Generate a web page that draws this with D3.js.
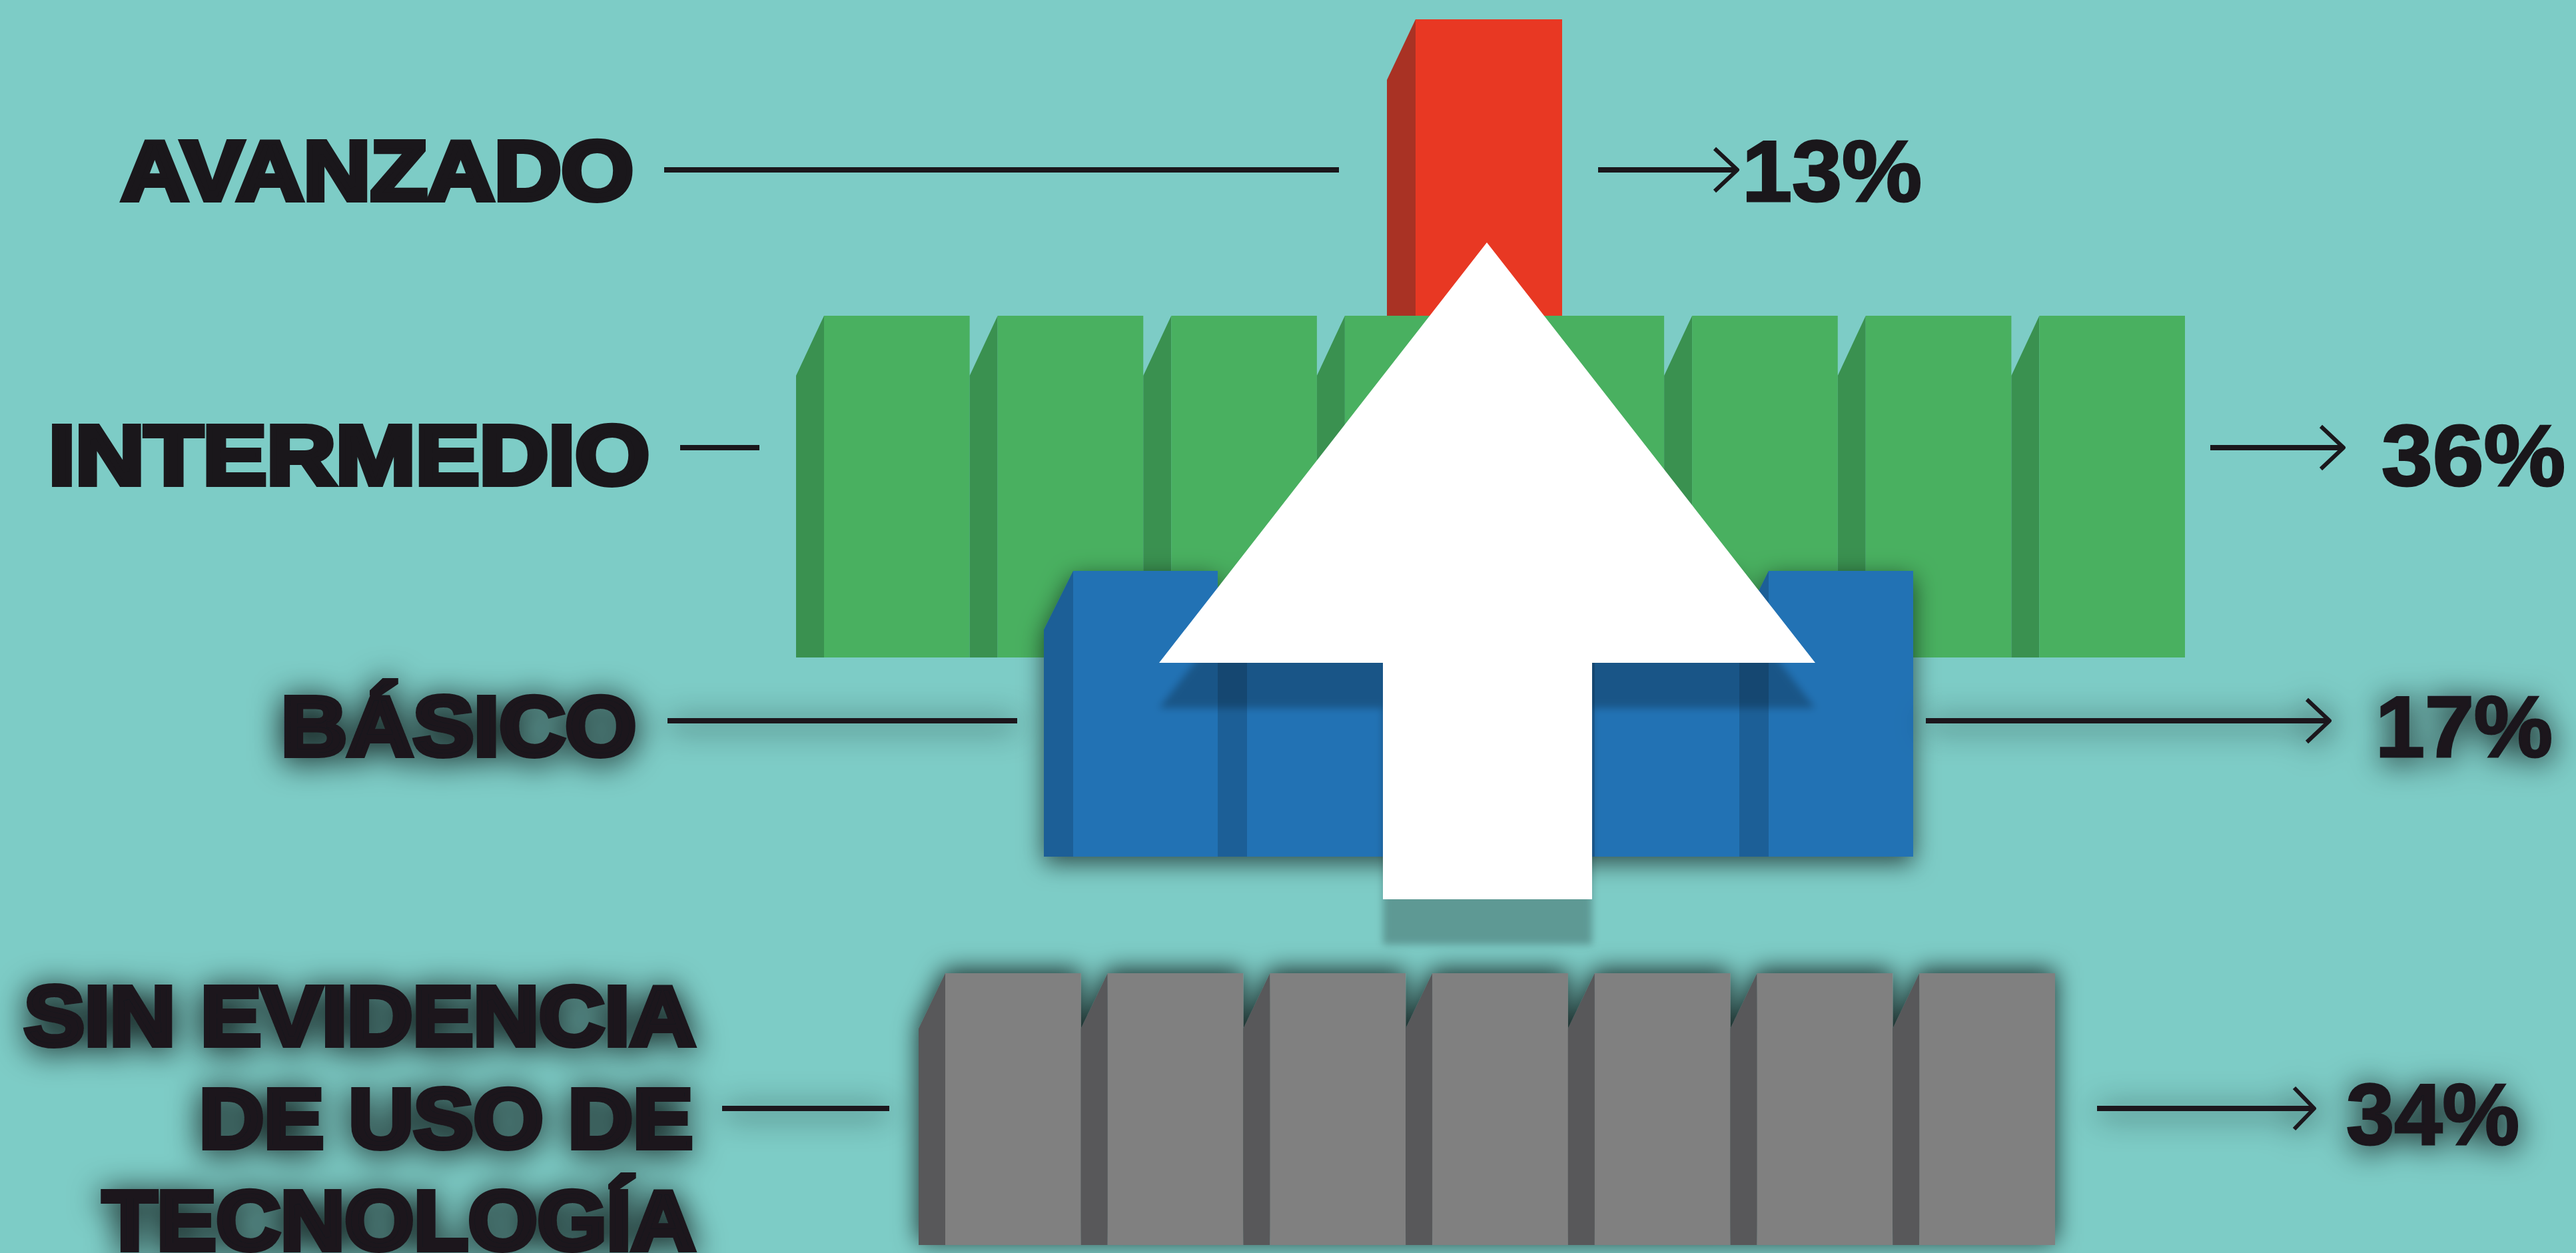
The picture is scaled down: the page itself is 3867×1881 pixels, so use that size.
<!DOCTYPE html>
<html>
<head>
<meta charset="utf-8">
<script src="https://d3js.org/d3.v7.min.js"></script>
<style>
html, body { margin: 0; padding: 0; background: #7dccc6; overflow: hidden; }
svg { display: block; }
text { font-family: "Liberation Sans", sans-serif; font-weight: 700; fill: #1a171b; }
</style>
</head>
<body>
<div id="chart"></div>
<script>
// data
const categories = ['AVANZADO', 'INTERMEDIO', 'BÁSICO', 'SIN EVIDENCIA DE USO DE TECNOLOGÍA'];
const percents = [13, 36, 17, 34];
const unitCounts = [1, 8, 5, 7]; // blocks drawn in each row
const labelLines = [['AVANZADO'], ['INTERMEDIO'], ['BÁSICO'], ['SIN EVIDENCIA', 'DE USO DE', 'TECNOLOGÍA']];

const width = 3867;
const height = 1881;

// one layout entry per row, all in pixels
const layout = [
    { left: 2082, right: 2345, top: 29, bottom: 500, shade: 43, rise: 91, front: '#e83823', side: '#a93224', barGlow: null, textGlow: null,
      line: [997, 2010], arrow: [2399, 2608], barb: 34, barbH: 32, lineY: 255,
      labels: [{ x0: 182, x1: 951, y: 300 }], pct: { x0: 2615, x1: 2885, y: 302 } },
    { left: 1195, right: 3280, top: 474, bottom: 987, shade: 42, rise: 90, front: '#49b060', side: '#3a9150', barGlow: null, textGlow: null,
      line: [1021, 1140], arrow: [3318, 3518], barb: 34, barbH: 32, lineY: 672,
      labels: [{ x0: 73, x1: 975, y: 727 }], pct: { x0: 3575, x1: 3851, y: 729 } },
    { left: 1567, right: 2872, top: 857, bottom: 1286, shade: 44, rise: 88, front: '#2472b4', side: '#1f5f97', barGlow: 'url(#blueGlow)', textGlow: 'url(#textGlow)',
      line: [1002, 1527], arrow: [2891, 3497], barb: 34, barbH: 32, lineY: 1082,
      labels: [{ x0: 422, x1: 955, y: 1134 }], pct: { x0: 3566, x1: 3832, y: 1136 } },
    { left: 1379, right: 3085, top: 1461, bottom: 1869, shade: 40, rise: 83, front: '#808080', side: '#58585a', barGlow: 'url(#grayGlow)', textGlow: 'url(#textGlow)',
      line: [1084, 1335], arrow: [3148, 3474], barb: 30, barbH: 31, lineY: 1664,
      labels: [{ x0: 36, x1: 1044, y: 1569 }, { x0: 299, x1: 1040, y: 1723 }, { x0: 154, x1: 1044, y: 1876 }],
      pct: { x0: 3522, x1: 3782, y: 1718 } }
];

const svg = d3.select('#chart').append('svg')
    .attr('width', width)
    .attr('height', height);

svg.append('rect').attr('width', width).attr('height', height).attr('fill', '#7dccc6');

const defs = svg.append('defs');

function addShadow(id, dy, blur, opacity) {
    defs.append('filter').attr('id', id)
        .attr('filterUnits', 'userSpaceOnUse')
        .attr('x', 0).attr('y', 0).attr('width', width).attr('height', height)
        .append('feDropShadow')
        .attr('dx', 0).attr('dy', dy)
        .attr('stdDeviation', blur)
        .attr('flood-color', '#000')
        .attr('flood-opacity', opacity);
}
addShadow('blueGlow', 10, 18, 0.62);
addShadow('grayGlow', -5, 18, 0.78);
addShadow('textGlow', 5, 24, 0.95);
addShadow('arrowShadow', 68, 6, 0.25);

const line = d3.line();

// bars, one row after the other so lower rows cover upper ones
layout.forEach((row, i) => {
    const g = svg.append('g').attr('filter', row.barGlow);
    const x = d3.scaleLinear().domain([0, unitCounts[i]]).range([row.left, row.right]);
    const units = g.selectAll('g.unit')
        .data(d3.range(unitCounts[i]))
        .enter()
        .append('g')
        .attr('class', 'unit');

    units.append('path')
        .attr('fill', row.side)
        .attr('d', d => line([
            [x(d), row.top + row.rise],
            [x(d) + row.shade, row.top],
            [x(d) + row.shade, row.bottom],
            [x(d), row.bottom]
        ]) + 'Z');

    units.append('rect')
        .attr('fill', row.front)
        .attr('x', d => x(d) + row.shade)
        .attr('y', row.top)
        .attr('width', d => x(d + 1) - x(d) - row.shade)
        .attr('height', row.bottom - row.top);
});

// labels, leader lines, arrows and percentages
layout.forEach((row, i) => {
    const g = svg.append('g').attr('filter', row.textGlow);

    g.selectAll('text.label')
        .data(labelLines[i])
        .enter()
        .append('text')
        .attr('class', 'label')
        .attr('x', (d, j) => row.labels[j].x0)
        .attr('y', (d, j) => row.labels[j].y)
        .attr('textLength', (d, j) => row.labels[j].x1 - row.labels[j].x0)
        .attr('lengthAdjust', 'spacingAndGlyphs')
        .attr('font-size', 126)
        .attr('stroke', '#1a171b')
        .attr('stroke-width', 8)
        .attr('stroke-linejoin', 'miter')
        .text(d => d);

    g.append('path')
        .attr('fill', 'none')
        .attr('stroke', '#1a171b')
        .attr('stroke-width', 8)
        .attr('d', line([[row.line[0], row.lineY], [row.line[1], row.lineY]]));

    g.append('path')
        .attr('fill', 'none')
        .attr('stroke', '#1a171b')
        .attr('stroke-width', 8)
        .attr('d', line([[row.arrow[0], row.lineY], [row.arrow[1] - 2, row.lineY]]));

    g.append('path')
        .attr('fill', 'none')
        .attr('stroke', '#1a171b')
        .attr('stroke-width', 6)
        .attr('stroke-linejoin', 'round')
        .attr('d', line([
            [row.arrow[1] - row.barb, row.lineY - row.barbH],
            [row.arrow[1], row.lineY],
            [row.arrow[1] - row.barb, row.lineY + row.barbH]
        ]));

    g.append('text')
        .attr('x', row.pct.x0)
        .attr('y', row.pct.y)
        .attr('textLength', row.pct.x1 - row.pct.x0)
        .attr('lengthAdjust', 'spacingAndGlyphs')
        .attr('font-size', 130)
        .attr('stroke', '#1a171b')
        .attr('stroke-width', 3)
        .text(percents[i] + '%');
});

// big white arrow on top of everything
svg.append('path')
    .attr('fill', '#fff')
    .attr('filter', 'url(#arrowShadow)')
    .attr('d', line([
        [2232, 364], [2725, 995], [2390, 995], [2390, 1350],
        [2076, 1350], [2076, 995], [1740, 995]
    ]) + 'Z');
</script>
</body>
</html>
